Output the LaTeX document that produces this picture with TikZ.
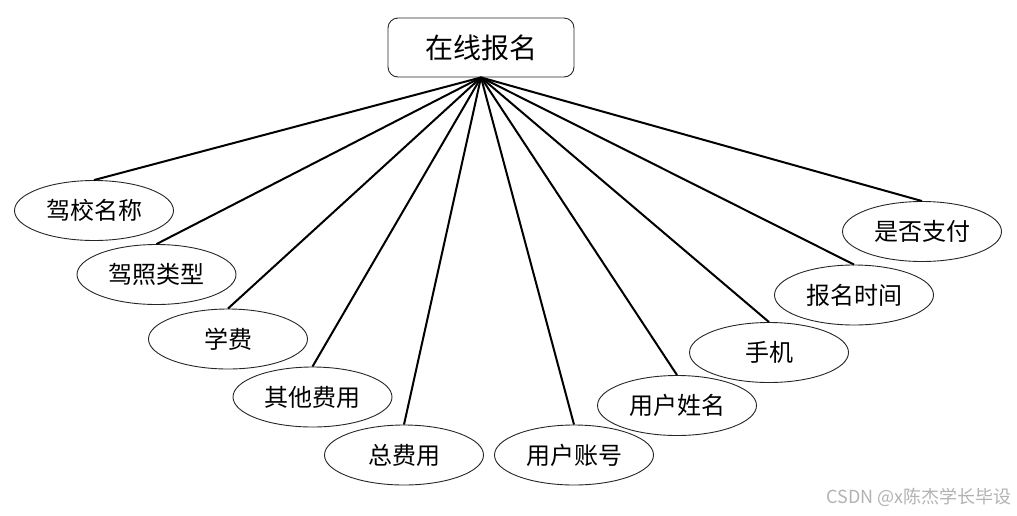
\documentclass[tikz,border=0pt]{standalone}
\usepackage{fontspec}
\setmainfont{Noto Sans CJK SC}
\usetikzlibrary{shapes.geometric}
\begin{document}
\begin{tikzpicture}[x=1pt,y=-1pt,
  topbox/.style={draw=black!85, line width=0.9pt, rounded corners=10pt, minimum width=186pt, minimum height=59pt, inner sep=0pt, font=\fontsize{28}{30}\selectfont},
  attr/.style={draw=black!85, line width=0.9pt, ellipse, minimum width=159pt, minimum height=60pt, inner sep=0pt, font=\fontsize{24}{26}\selectfont},
  conn/.style={line width=2pt, black}]
\useasboundingbox (0,0) rectangle (1017,515);
\node[topbox] (top) at (481,47.5) {在线报名};
\node[attr] (a1) at (94,210.5) {驾校名称};
\node[attr] (a2) at (156.5,274.5) {驾照类型};
\node[attr] (a3) at (228,339) {学费};
\node[attr] (a4) at (312.5,397) {其他费用};
\node[attr] (a5) at (404,455) {总费用};
\node[attr] (a6) at (574,455) {用户账号};
\node[attr] (a7) at (677,405.5) {用户姓名};
\node[attr] (a8) at (769,352.5) {手机};
\node[attr] (a9) at (854,295) {报名时间};
\node[attr] (a10) at (922,231.5) {是否支付};
\foreach \n in {a1,a2,a3,a4,a5,a6,a7,a8,a9,a10}
  \draw[conn] (top.south) -- (\n.north);
\node[text=black!30, anchor=east, inner sep=0pt, font=\fontsize{18}{20}\selectfont] (wm) at (1012,497) {CSDN @x陈杰学长毕设};
\end{tikzpicture}
\end{document}
